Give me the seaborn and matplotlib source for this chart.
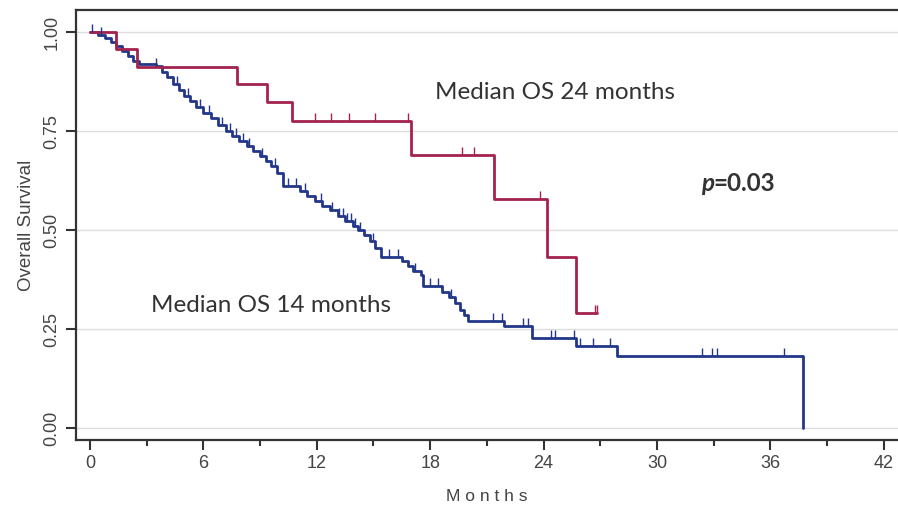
import numpy as np
import pandas as pd
import matplotlib
matplotlib.use("Agg")
import matplotlib.pyplot as plt
import seaborn as sns
from matplotlib.ticker import MultipleLocator

# Kaplan-Meier step data (time in months, survival after the step)
blue_time = [0, 0.4, 0.8, 1.1, 1.4, 1.7, 2.0, 2.3, 2.6, 3.5, 3.8, 4.1, 4.4, 4.7, 5.0, 5.3,
             5.6, 6.0, 6.4, 6.8, 7.2, 7.5, 7.9, 8.3, 8.6, 9.0, 9.3, 9.6, 9.9, 10.2, 11.1,
             11.5, 11.9, 12.3, 12.7, 13.1, 13.5, 13.9, 14.2, 14.5, 14.8, 15.1, 15.4, 16.5,
             16.8, 17.1, 17.5, 17.6, 18.6, 19.0, 19.3, 19.6, 19.8, 20.0, 21.9, 23.4, 25.7,
             27.9, 37.7]
blue_surv = [1.0, 0.993, 0.985, 0.975, 0.965, 0.952, 0.94, 0.928, 0.92, 0.915, 0.9, 0.888,
             0.87, 0.855, 0.84, 0.825, 0.81, 0.795, 0.782, 0.765, 0.75, 0.737, 0.725, 0.712,
             0.7, 0.688, 0.675, 0.662, 0.645, 0.612, 0.6, 0.587, 0.573, 0.562, 0.55, 0.535,
             0.522, 0.51, 0.5, 0.487, 0.472, 0.455, 0.433, 0.423, 0.41, 0.398, 0.386, 0.358,
             0.345, 0.33, 0.315, 0.298, 0.285, 0.27, 0.258, 0.227, 0.207, 0.182, 0.0]
blue_censor = [0.1, 0.6, 3.5, 4.6, 5.2, 5.8, 6.3, 7.0, 7.4, 7.7, 8.1, 8.4, 9.1, 9.8, 10.5,
               10.9, 11.4, 12.2, 12.8, 13.2, 13.4, 13.6, 13.8, 14.0, 14.3, 15.0, 15.8, 16.3,
               17.2, 18.0, 18.4, 19.1, 21.3, 21.8, 22.9, 23.2, 24.4, 24.6, 25.6, 25.9, 26.6,
               27.5, 32.4, 32.9, 33.2, 36.7]

red_time = [0, 1.4, 2.5, 7.8, 9.35, 10.7, 17.0, 21.4, 24.2, 25.7, 26.85]
red_surv = [1.0, 0.957, 0.913, 0.869, 0.823, 0.775, 0.689, 0.578, 0.432, 0.29, 0.29]
red_censor = [11.9, 12.75, 13.7, 15.1, 16.8, 19.7, 20.3, 23.8, 26.7, 26.85]

x_ticks = [0, 6, 12, 18, 24, 30, 36, 42]
y_ticks = [0.0, 0.25, 0.5, 0.75, 1.0]

BLUE = "#23378a"
RED = "#a3234e"

sns.set_style("white")
plt.rcParams['font.family'] = ['Liberation Sans', 'DejaVu Sans']

fig = plt.figure(figsize=(8.98, 5.15), dpi=100)
ax = fig.add_axes([0.0846, 0.1456, 0.9154, 0.835])


def censor_y(times, surv, cens):
    t = np.asarray(times)
    s = np.asarray(surv)
    idx = np.searchsorted(t, cens, side='right') - 1
    return s[idx]


blue_df = pd.DataFrame({'Months': blue_time, 'Survival': blue_surv})
red_df = pd.DataFrame({'Months': red_time, 'Survival': red_surv})

sns.lineplot(data=blue_df, x='Months', y='Survival', ax=ax, color=BLUE, lw=2.0,
             drawstyle='steps-post', estimator=None, sort=False)
sns.lineplot(data=red_df, x='Months', y='Survival', ax=ax, color=RED, lw=2.0,
             drawstyle='steps-post', estimator=None, sort=False)

ax.plot(blue_censor, censor_y(blue_time, blue_surv, blue_censor), ls='none',
        marker=2, ms=6, mew=1.0, color=BLUE)
ax.plot(red_censor, censor_y(red_time, red_surv, red_censor), ls='none',
        marker=2, ms=6, mew=1.0, color=RED)

ax.set_xlim(-0.74, 42.75)
ax.set_ylim(-0.03, 1.056)
ax.set_xticks(x_ticks)
ax.xaxis.set_minor_locator(MultipleLocator(3))
ax.set_yticks(y_ticks)
ax.set_yticklabels(['0.00', '0.25', '0.50', '0.75', '1.00'], rotation=90, va='center')

ax.grid(axis='y', color='#dddddd', lw=1)
ax.set_axisbelow(True)

for side in ['left', 'bottom', 'top']:
    ax.spines[side].set_color('#333333')
    ax.spines[side].set_linewidth(1.6)
ax.spines['right'].set_visible(False)

ax.tick_params(axis='both', which='major', direction='out', length=7, width=1.5,
               color='#333333', labelsize=13, labelcolor='#444444', pad=4)
ax.tick_params(axis='x', which='minor', direction='out', length=4, width=1.5,
               color='#333333', bottom=True)
ax.tick_params(axis='x', which='major', bottom=True)
ax.tick_params(axis='y', which='major', left=True)

ax.set_xlabel('M o n t h s', fontsize=12.5, color='#444444', labelpad=12)
ax.set_ylabel('Overall Survival', fontsize=13.5, color='#444444', labelpad=6)

ann = dict(fontsize=17.5, color='#333333', family=['Lato', 'DejaVu Sans'])
ax.text(24.6, 0.848, 'Median OS 24 months', ha='center', va='center', **ann)
ax.text(9.6, 0.31, 'Median OS 14 months', ha='center', va='center', **ann)
ax.text(33.0, 0.619, 'p', ha='right', va='center', style='italic', fontweight='bold', **ann)
ax.text(33.0, 0.619, '=0.03', ha='left', va='center', fontweight='bold', **ann)

fig.savefig('out.png', dpi=100)
